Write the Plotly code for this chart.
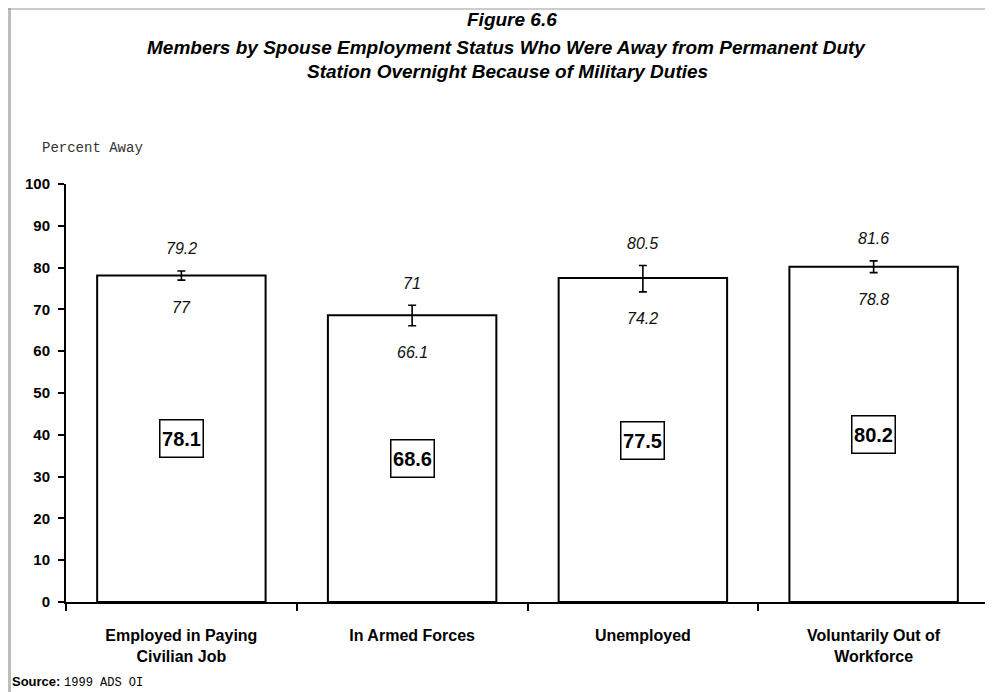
import plotly.graph_objects as go

categories = ["Employed in Paying<br>Civilian Job", "In Armed Forces", "Unemployed", "Voluntarily Out of<br>Workforce"]
values = [78.1, 68.6, 77.5, 80.2]
upper = [79.2, 71, 80.5, 81.6]
lower = [77, 66.1, 74.2, 78.8]
upper_text = ["79.2", "71", "80.5", "81.6"]
lower_text = ["77", "66.1", "74.2", "78.8"]
value_text = ["78.1", "68.6", "77.5", "80.2"]
y_ticks = [0, 10, 20, 30, 40, 50, 60, 70, 80, 90, 100]

# page is 993x692; the html body has an 8px margin, so the figure is offset by 8px
OFF = 8
W, H = 993 - OFF, 692 - OFF
L, R, T, B = 66 - OFF, 4, 184 - OFF, 90
pw, ph = W - L - R, H - T - B

def px(x):  # page pixel -> paper x
    return (x - OFF - L) / pw

def py(y):  # page pixel -> paper y
    return (H - B - (y - OFF)) / ph

fig = go.Figure()
fig.add_trace(go.Bar(
    x=categories, y=values, width=0.73,
    marker=dict(color="white", line=dict(color="black", width=2)),
    error_y=dict(type="data", symmetric=False,
                 array=[u - v for u, v in zip(upper, values)],
                 arrayminus=[v - l for v, l in zip(values, lower)],
                 color="black", thickness=1.6, width=4),
    hoverinfo="skip",
))

ann = []
lab_font = dict(family="Liberation Sans, Arial", size=16, color="#111")
for c, v, u, l, ut, lt, vt in zip(categories, values, upper, lower, upper_text, lower_text, value_text):
    ann.append(dict(x=c, y=u, text=f"<i>{ut}</i>", showarrow=False, yanchor="middle", yshift=22, font=lab_font))
    ann.append(dict(x=c, y=l, text=f"<i>{lt}</i>", showarrow=False, yanchor="middle", yshift=-27, font=lab_font))
    ann.append(dict(x=c, y=v / 2, text=f"<b>{vt}</b>", showarrow=False, yanchor="middle",
                    bordercolor="black", borderwidth=1.5, borderpad=0, bgcolor="white",
                    width=42, height=36,
                    font=dict(family="Liberation Sans, Arial", size=20, color="black")))

title_font = dict(family="Liberation Sans, Arial", size=19, color="black")
for txt, xp, yp in [("Figure 6.6", 512, 20),
                    ("Members by Spouse Employment Status Who Were Away from Permanent Duty", 506, 47),
                    ("Station Overnight Because of Military Duties", 507, 72)]:
    ann.append(dict(xref="paper", yref="paper", x=px(xp), y=py(yp), text=f"<b><i>{txt}</i></b>",
                    showarrow=False, xanchor="center", yanchor="middle", font=title_font))

ann.append(dict(xref="paper", yref="paper", x=px(40), y=py(148), text="Percent Away",
                showarrow=False, xanchor="left", yanchor="middle",
                font=dict(family="Liberation Mono, Courier New", size=14, color="#333")))
ann.append(dict(xref="paper", yref="paper", x=px(10), y=py(682),
                text="<b>Source:</b> <span style='font-family:Liberation Mono, Courier New;font-size:12px'>1999 ADS OI</span>",
                showarrow=False, xanchor="left", yanchor="middle",
                font=dict(family="Liberation Sans, Arial", size=13, color="black")))

fig.update_layout(
    width=W, height=H,
    margin=dict(l=L, r=R, t=T, b=B),
    paper_bgcolor="white", plot_bgcolor="white",
    showlegend=False,
    annotations=ann,
    shapes=[dict(type="rect", xref="paper", yref="paper", x0=px(8), x1=px(11), y0=py(700), y1=py(8),
                 fillcolor="#bdbdbd", line=dict(width=0), layer="above"),
            dict(type="line", xref="paper", yref="paper", x0=px(8), x1=px(993), y0=py(9), y1=py(9),
                 line=dict(color="#999", width=1))],
    xaxis=dict(showline=True, linecolor="black", linewidth=2, ticks="outside", ticklen=7,
               tickwidth=2, tickcolor="black", tickson="boundaries", showgrid=False,
               tickfont=dict(family="Liberation Sans, Arial", size=16, color="black", weight="bold"),
               ticklabelstandoff=18, range=[-0.5, 3.5]),
    yaxis=dict(range=[0, 100], tickvals=y_ticks, ticktext=[f"<b>{t}</b>" for t in y_ticks],
               showline=True, linecolor="black", linewidth=2, ticks="outside", ticklen=6,
               tickwidth=2, tickcolor="black", showgrid=False, zeroline=False,
               tickfont=dict(family="Liberation Sans, Arial", size=15, color="black"),
               ticklabelstandoff=5),
)

fig.write_html("out.html")
